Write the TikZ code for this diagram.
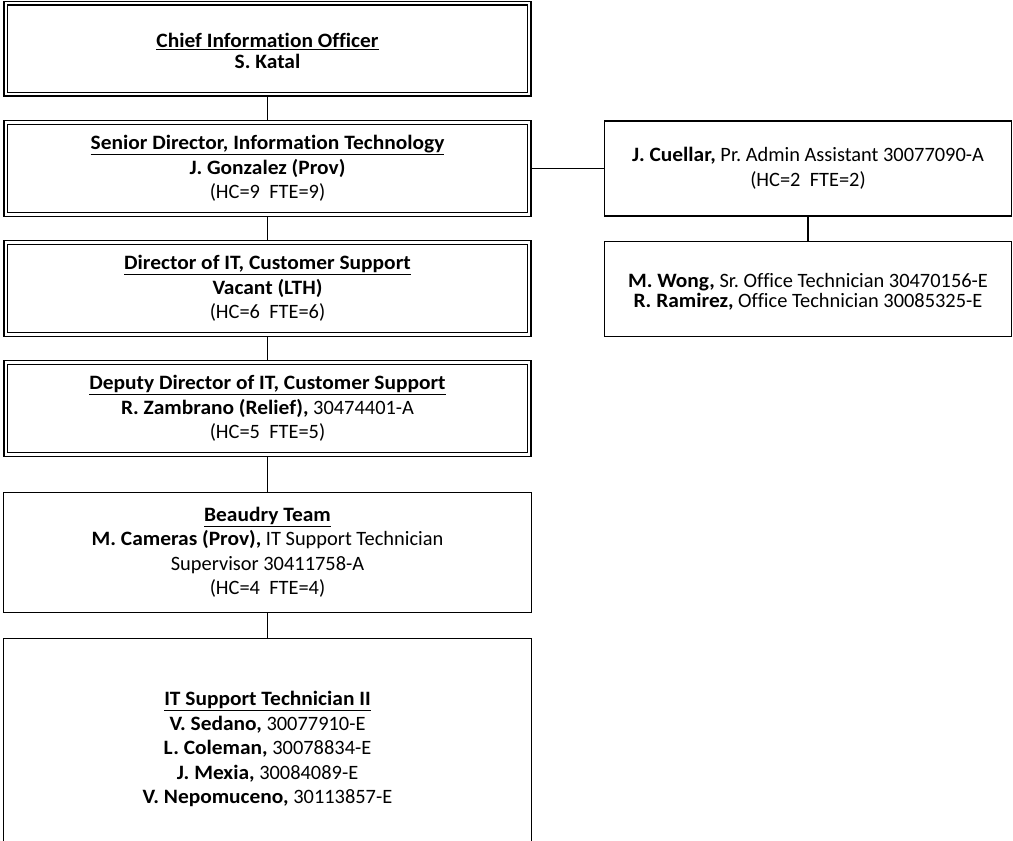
\documentclass[tikz,border=0pt]{standalone}
\usepackage{fontspec}
\setmainfont{Carlito}[Ligatures=NoCommon, BoldFeatures={FakeStretch=1.05}]
\usepackage{tikz}
\usetikzlibrary{backgrounds}
\frenchspacing
\newcommand{\nm}[1]{\textbf{#1}}
\newcommand{\ttl}[1]{\underline{\nm{#1}}}

\tikzset{
  dbox/.style={draw, double, double distance=2.4pt, line width=1.1pt, fill=white, align=center, inner sep=0pt, font=\fontsize{20.4}{24.5}\selectfont},
  sbox/.style={draw, line width=1.3pt, fill=white, align=center, inner sep=0pt, font=\fontsize{20.4}{24.5}\selectfont},
  link/.style={line width=1.2pt}
}

\begin{document}
\begin{tikzpicture}[x=1pt,y=1pt,yscale=-1]
\useasboundingbox (0,0) rectangle (1013,841);
\clip (0,0) rectangle (1013,841);
%Left column
\node (cio) [dbox][minimum width=523.5pt, minimum height=91pt] at (267.5,48.75) {\raisebox{-5pt}[\height][\depth]{\renewcommand{\arraystretch}{0.8}\begin{tabular}{@{}c@{}}\ttl{Chief Information Officer}\\ \nm{S. Katal}\end{tabular}}};
\node (senior) [dbox][minimum width=523.5pt, minimum height=92pt] at (267.5,168.5) {\ttl{Senior Director, Information Technology}\\ \nm{J. Gonzalez (Prov)}\\ (HC=9\ \ FTE=9)};
\node (director) [dbox][minimum width=523.5pt, minimum height=92pt] at (267.5,288.5) {\ttl{Director of IT, Customer Support}\\ \nm{Vacant (LTH)}\\ (HC=6\ \ FTE=6)};
\node (deputy) [dbox][minimum width=523.5pt, minimum height=92pt] at (267.5,408.5) {\ttl{Deputy Director of IT, Customer Support}\\ \nm{R. Zambrano (Relief),} 30474401-A\\ (HC=5\ \ FTE=5)};
\node (beaudry) [sbox][minimum width=528pt, minimum height=120pt] at (267.5,552.5) {\ttl{Beaudry Team}\\ \nm{M. Cameras (Prov),} IT Support Technician\\ Supervisor 30411758-A\\ (HC=4\ \ FTE=4)};
\node (techs) [sbox][minimum width=528pt, minimum height=221pt] at (267.5,749) {\ttl{IT Support Technician II}\\ \nm{V. Sedano,} 30077910-E\\ \nm{L. Coleman,} 30078834-E\\ \nm{J. Mexia,} 30084089-E\\ \nm{V. Nepomuceno,} 30113857-E};
%Right column
\node (cuellar) [sbox][minimum width=407pt, minimum height=95pt] at (808,168.5) {\nm{J. Cuellar,} Pr. Admin Assistant 30077090-A\\ (HC=2\ \ FTE=2)};
\node (wong) [sbox][minimum width=407pt, minimum height=95pt] at (808,289) {\raisebox{-4.5pt}[\height][\depth]{\renewcommand{\arraystretch}{0.8}\begin{tabular}{@{}c@{}}\nm{M. Wong,} Sr. Office Technician 30470156-E\\ \nm{R. Ramirez,} Office Technician 30085325-E\end{tabular}}};
%Lines
\begin{scope}[on background layer]
\draw [link] (cio) -- (senior);
\draw [link] (senior) -- (director);
\draw [link] (director) -- (deputy);
\draw [link] (deputy) -- (beaudry);
\draw [link] (beaudry) -- (techs);
\draw [link] (senior) -- (senior -| cuellar);
\draw [link] (cuellar) -- (wong);
\end{scope}
\end{tikzpicture}
\end{document}
